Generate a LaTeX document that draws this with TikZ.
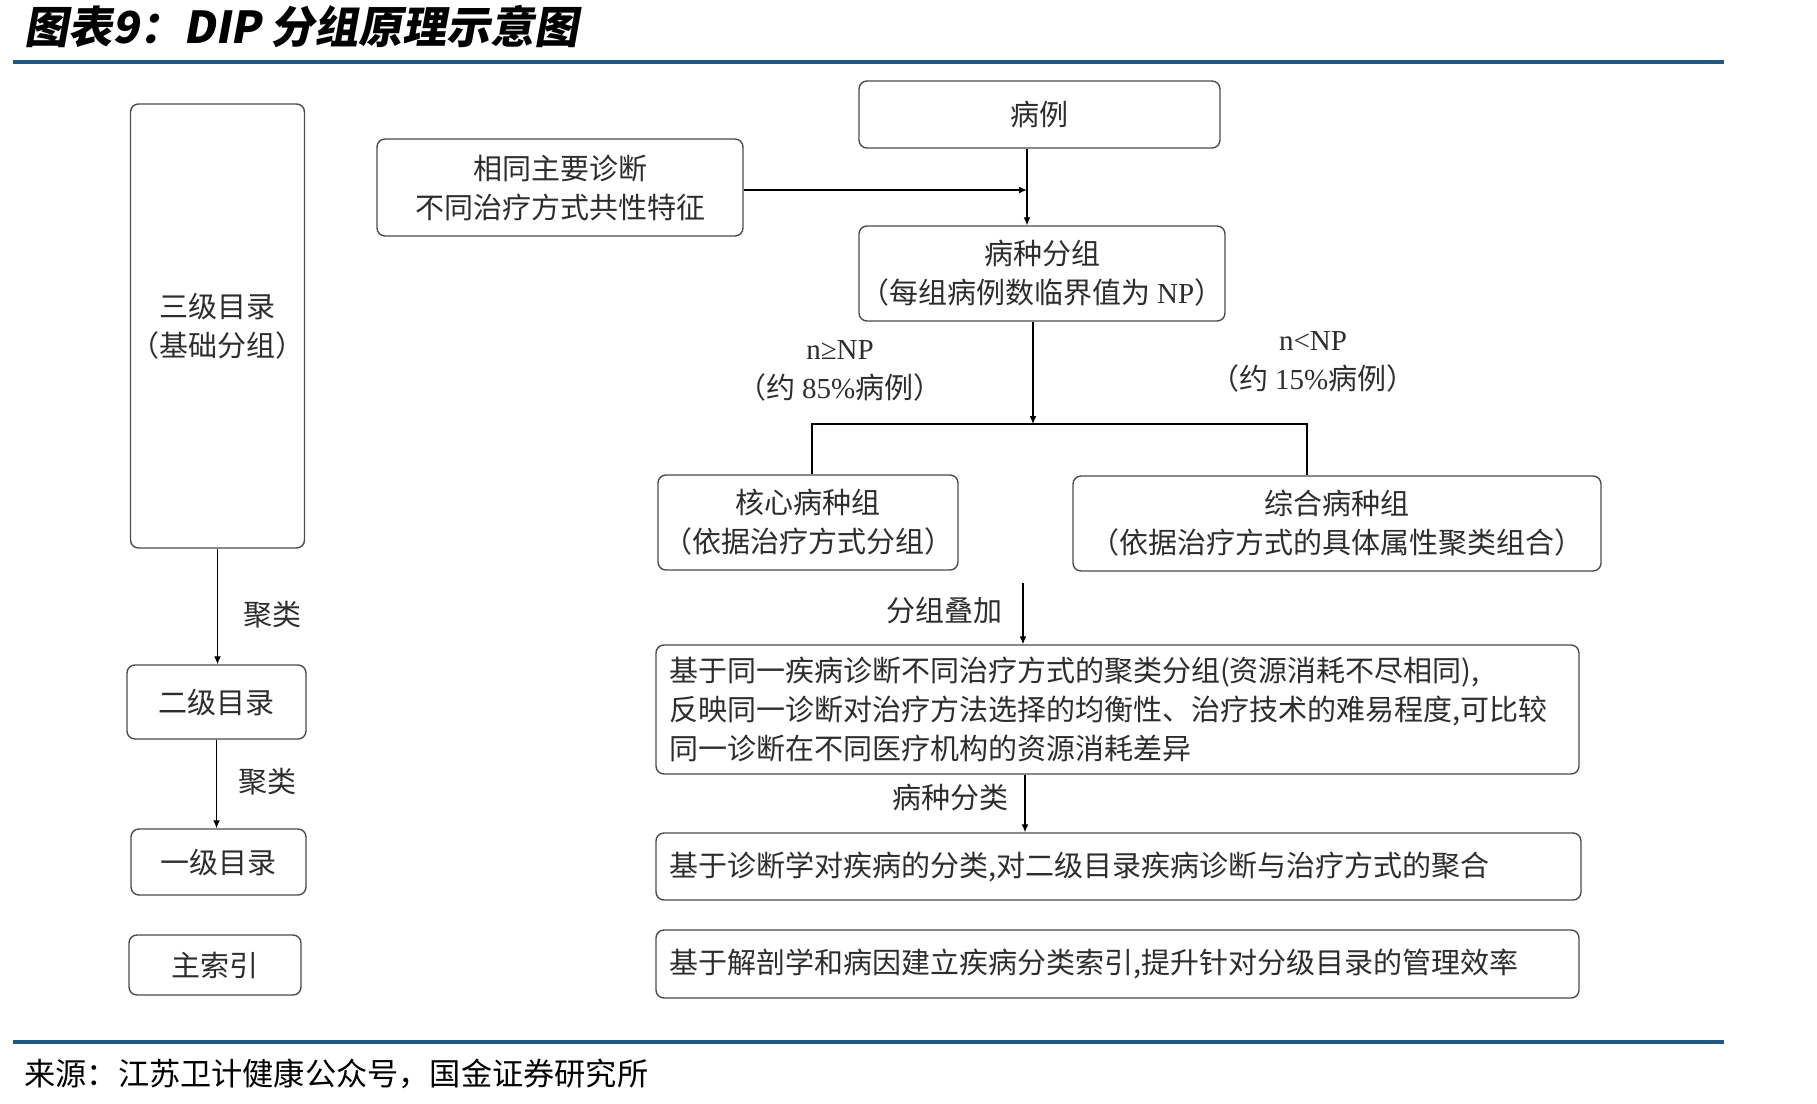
\documentclass[tikz,border=0pt]{standalone}
\usepackage{fontspec}
\setmainfont{Noto Sans CJK SC}
\newfontfamily\titlefont[FakeSlant=0.18]{Noto Sans CJK SC}
\newfontfamily\latfont{Liberation Serif}
\usetikzlibrary{arrows.meta}
\definecolor{rule}{RGB}{31,86,130}
\definecolor{txt}{RGB}{45,45,45}
\begin{document}
\begin{tikzpicture}[x=0.5pt,y=-0.5pt,
  box/.style={draw=black!70, line width=0.7pt, rounded corners=4pt, inner sep=0pt, align=center,
     text=txt, font=\fontsize{14.5}{19.5}\selectfont},
  wbox/.style={box, align=left, text width=#1, inner xsep=6.5pt},
  arr/.style={draw=black, line width=0.6pt, -{Latex[length=4pt,width=3.4pt]}},
  ln/.style={draw=black, line width=0.6pt},
  lbl/.style={text=txt, font=\fontsize{14.5}{19.5}\selectfont, inner sep=0pt}]
\useasboundingbox (0,0) rectangle (1817,1104);
% title and rules
\node[anchor=west, inner sep=0pt, font=\titlefont\bfseries\fontsize{22}{24}\selectfont] (title) at (24,27) {图表9：DIP 分组原理示意图};
\draw[rule, line width=2pt] (13,62) -- (1724,62);
\draw[rule, line width=2pt] (13,1042) -- (1724,1042);
\node[anchor=west, inner sep=0pt, font=\fontsize{15.6}{18}\selectfont] (src) at (24,1074) {来源：江苏卫计健康公众号，国金证券研究所};
% left column
\node[box, minimum width=86.5pt, minimum height=222pt] (sanji) at (217.5,326) {三级目录\\（基础分组）};
\node[box, minimum width=89.5pt, minimum height=37pt] (erji) at (216.5,702) {二级目录};
\node[box, minimum width=87.5pt, minimum height=33pt] (yiji) at (218.5,862) {一级目录};
\node[box, minimum width=86pt, minimum height=30pt] (zsy) at (215,965) {主索引};
\draw[arr] (sanji.south) -- (sanji.south |- erji.north);
\draw[arr] (erji.south) -- (erji.south |- yiji.north);
\node[lbl] (jl1) at (272,615) {聚类};
\node[lbl] (jl2) at (267,782) {聚类};
% right column
\node[box, minimum width=180.5pt, minimum height=33.5pt] (bingli) at (1039.5,114.5) {病例};
\node[box, minimum width=183pt, minimum height=48.5pt] (xiangtong) at (560,187.5) {相同主要诊断\\不同治疗方式共性特征};
\node[box, minimum width=183pt, minimum height=47.5pt] (bzfz) at (1042,273.5) {病种分组\\（每组病例数临界值为 {\latfont NP}）};
\coordinate (c1) at (1027,190);
\draw[arr] (bingli.south -| c1) -- (bzfz.north -| c1);
\draw[arr] (xiangtong.east |- c1) -- (c1);
\coordinate (sp) at (1033,424);
\draw[arr] (bzfz.south -| sp) -- (sp);
\node[box, minimum width=150pt, minimum height=47.5pt] (hexin) at (808,522.5) {核心病种组\\（依据治疗方式分组）};
\node[box, minimum width=264pt, minimum height=47.5pt] (zonghe) at (1337,523.5) {综合病种组\\（依据治疗方式的具体属性聚类组合）};
\coordinate (sl) at (812,424);
\coordinate (sr) at (1307,424);
\draw[ln] (hexin.north -| sl) -- (sl) -- (sr) -- (zonghe.north -| sr);
\node[lbl, align=center] (ge) at (840,371) {{\latfont n≥NP}\\（约 {\latfont 85\%}病例）};
\node[lbl, align=center] (lt) at (1313,362) {{\latfont n<NP}\\（约 {\latfont 15\%}病例）};
\node[wbox=448.5pt, minimum height=64.5pt] (big) at (1117.5,709.5) {基于同一疾病诊断不同治疗方式的聚类分组(资源消耗不尽相同),\\反映同一诊断对治疗方法选择的均衡性、治疗技术的难易程度,可比较\\同一诊断在不同医疗机构的资源消耗差异};
\coordinate (c2) at (1023,583);
\draw[arr] (c2) -- (c2 |- big.north);
\node[lbl] (fzdj) at (944,611) {分组叠加};
\node[wbox=449.5pt, minimum height=33.5pt] (b2) at (1118.5,866.5) {基于诊断学对疾病的分类,对二级目录疾病诊断与治疗方式的聚合};
\coordinate (c3) at (1025,800);
\draw[arr] (big.south -| c3) -- (b2.north -| c3);
\node[lbl] (bzfl) at (950,797) {病种分类};
\node[wbox=448.5pt, minimum height=34pt] (b3) at (1117.5,964) {基于解剖学和病因建立疾病分类索引,提升针对分级目录的管理效率};
\end{tikzpicture}
\end{document}
